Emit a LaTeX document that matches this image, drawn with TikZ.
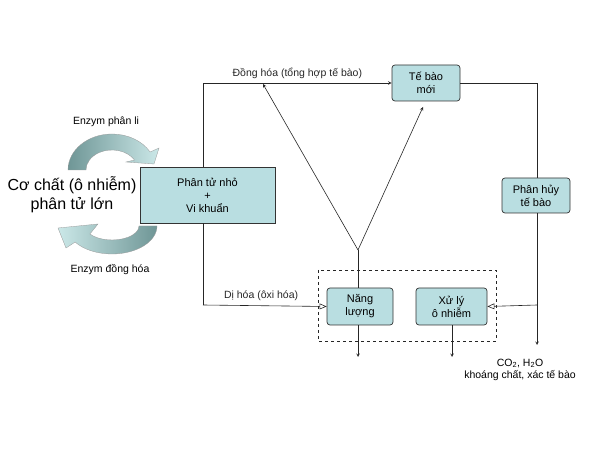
\documentclass[tikz,border=0pt]{standalone}
\usepackage{fontspec}
\setmainfont{Liberation Sans}
\usetikzlibrary{calc,arrows}
\begin{document}
\begin{tikzpicture}[x=1pt,y=1pt,
  box/.style={draw=black!80,fill=boxc,line width=0.7pt,align=center,font=\fontsize{11}{13}\selectfont,inner sep=0pt},
  rbox/.style={box,rounded corners=3pt},
  lbl/.style={font=\fontsize{10.5}{12.5}\selectfont},
  ln/.style={line width=0.6pt,black!85},
  ar/.style={ln,->,>=stealth}]
\definecolor{boxc}{HTML}{B9DEE1}
\definecolor{dk}{HTML}{6F9696}
\definecolor{lt}{HTML}{CBE8E8}
\useasboundingbox (0,0) rectangle (600,450);
% curved arrows
\shade[left color=dk,right color=lt,draw=black!40,line width=0.3pt]
 (68,280) arc[start angle=180,end angle=30,x radius=44,y radius=36]
 -- (159,302) -- (154,286) -- (126,288) -- (134.5,290)
 arc[start angle=30,end angle=180,x radius=26,y radius=20] -- cycle;
\shade[left color=lt,right color=dk,draw=black!40,line width=0.3pt]
 (157,224) arc[start angle=0,end angle=-145,x radius=45,y radius=28]
 -- (66,202) -- (58,222) -- (98,226) -- (89.9,216)
 arc[start angle=-145,end angle=0,x radius=27,y radius=14] -- cycle;
\node[lbl] (e1) at (106,328) {Enzym phân li};
\node[lbl] (e2) at (110,180) {Enzym đồng hóa};
\node[align=center,font=\fontsize{16}{19}\selectfont] (cc) at (72,255) {Cơ chất (ô nhiễm)\\phân tử lớn};
% boxes
\node[box,minimum width=135,minimum height=56] (pt) at (207.5,255) {Phân tử nhỏ\\+\\Vi khuẩn};
\node[rbox,minimum width=68,minimum height=36] (tb) at (426,367) {Tế bào\\mới};
\node[rbox,minimum width=68,minimum height=35] (ph) at (536,254.5) {Phân hủy\\tế bào};
\node[rbox,minimum width=66,minimum height=37] (nl) at (360,143.5) {Năng\\lượng};
\node[rbox,minimum width=71,minimum height=37] (xl) at (451.5,143.5) {Xử lý\\ô nhiễm};
\draw[dashed,ln] (318,180) rectangle (496,109);
% connectors
\coordinate (tl) at (203,367);
\coordinate (bl) at (203,145);
\draw[ln] (pt.north -| tl) -- (tl);
\draw[ar] (tl) -- node[lbl,above=1pt,pos=0.5]{Đồng hóa (tổng hợp tế bào)} (tb.west);
\draw[ln] (pt.south -| bl) -- (bl);
\draw[ar,>=open triangle 45] (bl) -- node[lbl,above=1pt,pos=0.47]{Dị hóa (ôxi hóa)} (nl.west);
\coordinate (v) at (358,200);
\coordinate (tr) at (537,367);
\draw[ln] (nl.north -| v) -- (v);
\draw[ar] (v) -- (263,366);
\draw[ar] (v) -- (423,343);
\draw[ln] (tb.east) -- (tr) -- (ph.north -| tr);
\coordinate (bo) at (537,105);
\coordinate (br) at (537,145);
\draw[ar] (ph.south -| tr) -- (bo);
\draw[ar,>=open triangle 45] (br) -- (xl.east);
\coordinate (d1) at (358,93);
\coordinate (d2) at (452,93);
\draw[ar] (nl.south -| d1) -- (d1);
\draw[ar] (xl.south -| d2) -- (d2);
\node[lbl,align=center] (co) at (520,80) {CO\textsubscript{2}, H\textsubscript{2}O\\khoáng chất, xác tế bào};
\end{tikzpicture}
\end{document}
